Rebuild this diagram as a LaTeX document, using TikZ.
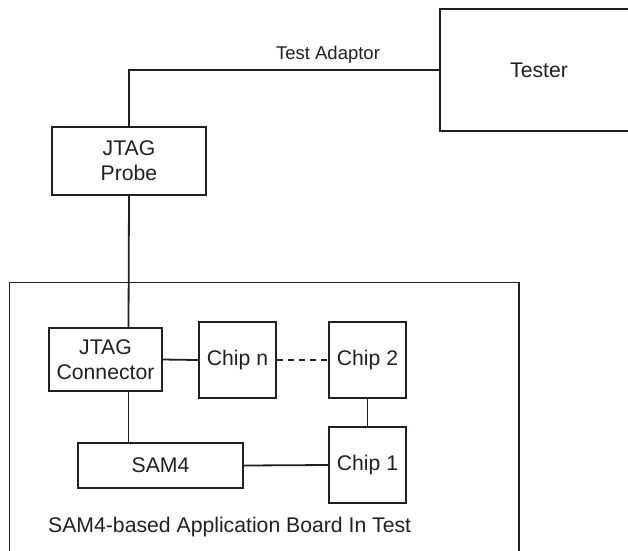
\documentclass[tikz,border=0pt]{standalone}
\usepackage{fontspec}
\setmainfont{Liberation Sans}
\definecolor{figline}{RGB}{35,31,32}
\tikzset{
  blk/.style  ={draw=figline, line width=1.8pt, text=figline, align=center, inner sep=0pt, font=\fontsize{21.2}{25}\selectfont},
  wire/.style ={draw=figline, line width=1.8pt},
  dwire/.style={wire, dash pattern=on 6pt off 5pt},
  lab/.style  ={text=figline, inner sep=0pt, font=\fontsize{21.2}{25}\selectfont},
}

\begin{document}
\begin{tikzpicture}[x=1pt,y=-1pt]
  \useasboundingbox (0,0) rectangle (628,550);
  \clip (0,0) rectangle (628,550);
  % tester side
  \node[blk,minimum width=198pt,minimum height=122pt] (tester) at (539,70) {Tester};
  \node[blk,minimum width=154pt,minimum height=68pt] (probe) at (129,161) {JTAG\\Probe};
  \draw[wire] (probe.north) |- (tester.west);
  \node[lab,font=\fontsize{18.5}{22}\selectfont] (adaptor) at (328,55) {Test Adaptor};
  % board under test
  \draw[wire] (9.5,570) |- (519,282.5) -- (519,570);
  \node[lab,anchor=west] (boardlab) at (48,527) {SAM4-based Application Board In Test};
  \node[blk,minimum width=113pt,minimum height=63pt] (conn) at (105.5,359.5) {JTAG\\Connector};
  \node[blk,minimum width=77pt,minimum height=76pt] (chipn) at (237.5,360) {Chip n};
  \node[blk,minimum width=77pt,minimum height=76pt] (chiptwo) at (367.5,360) {Chip 2};
  \node[blk,minimum width=77pt,minimum height=76pt] (chipone) at (367.5,465) {Chip 1};
  \node[blk,minimum width=165pt,minimum height=45pt] (sam) at (160.5,465.5) {SAM4};
  \coordinate (tap) at (128.5,0);
  \draw[wire] (probe.south) -- (tap |- conn.north);
  \draw[wire] (tap |- conn.south) -- (tap |- sam.north);
  \draw[wire] (conn.east) -- (chipn.west);
  \draw[dwire] (chipn.east) -- (chiptwo.west);
  \draw[wire] (chiptwo.south) -- (chipone.north);
  \draw[wire] (sam.east) -- (chipone.west);
\end{tikzpicture}
\end{document}
